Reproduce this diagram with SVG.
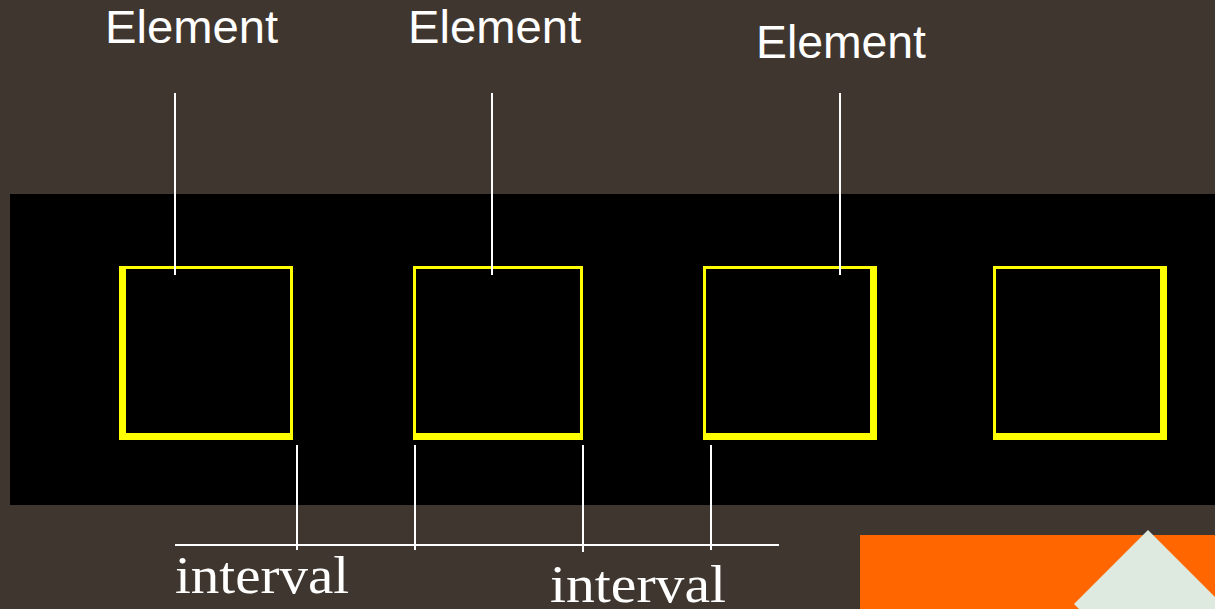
<svg xmlns="http://www.w3.org/2000/svg" width="1215" height="609" viewBox="0 0 1215 609">
<style>
.box{fill:#ffff00;fill-rule:evenodd}
.lbl{font-family:"Liberation Sans",Arial,sans-serif;font-size:46px;fill:#ffffff}
.itv{font-family:"Liberation Serif","Times New Roman",serif;font-size:52px;fill:#ffffff}
.ln{stroke:#ffffff;stroke-width:2;fill:none}
</style>
<rect x="0" y="0" width="1215" height="609" fill="#3f372f"/>
<rect x="10" y="194" width="1205" height="311" fill="#000000"/>
<g id="node1"><path class="box" d="M119 266H293V440H119Z M126 269V433H290V269Z"/></g>
<g id="node2"><path class="box" d="M413 266H583V440H413Z M416 269V433H580V269Z"/></g>
<g id="node3"><path class="box" d="M703 266H877V440H703Z M706 269V433H870V269Z"/></g>
<g id="node4"><path class="box" d="M993 266H1167V440H993Z M996 269V433H1160V269Z"/></g>
<g id="labels">
<text class="lbl" x="105" y="43" textLength="173" lengthAdjust="spacingAndGlyphs">Element</text>
<text class="lbl" x="408" y="43" textLength="173" lengthAdjust="spacingAndGlyphs">Element</text>
<text class="lbl" x="756" y="58" textLength="170" lengthAdjust="spacingAndGlyphs">Element</text>
<text class="itv" x="175" y="593" textLength="174" lengthAdjust="spacingAndGlyphs">interval</text>
<text class="itv" x="550" y="602" textLength="176" lengthAdjust="spacingAndGlyphs">interval</text>
</g>
<g id="connectors">
<line class="ln" x1="175" y1="93" x2="175" y2="275"/>
<line class="ln" x1="492" y1="93" x2="492" y2="275"/>
<line class="ln" x1="840" y1="93" x2="840" y2="275"/>
<line class="ln" x1="175" y1="545" x2="779" y2="545"/>
<line class="ln" x1="297" y1="445" x2="297" y2="550"/>
<line class="ln" x1="415" y1="445" x2="415" y2="550"/>
<line class="ln" x1="583" y1="445" x2="583" y2="552"/>
<line class="ln" x1="711" y1="445" x2="711" y2="550"/>
</g>
<rect x="860" y="535" width="355" height="74" fill="#ff6600"/>
<polygon points="1148,530 1222,604 1148,678 1074,604" fill="#deeadf"/>
</svg>
